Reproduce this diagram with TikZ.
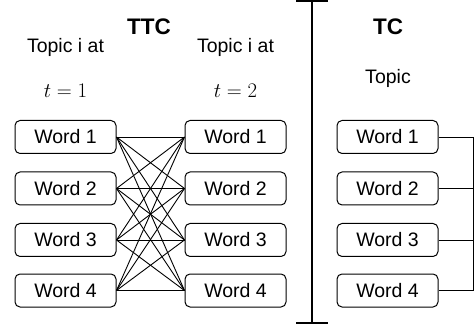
\documentclass[tikz,border=0pt]{standalone}
\usepackage{fontspec}
\setmainfont{Liberation Sans}
\begin{document}
\begin{tikzpicture}[x=1pt,y=-1pt,
  wordbox/.style={draw, rounded corners=5pt, minimum width=101pt, minimum height=33pt, inner sep=0pt, line width=1pt, font=\fontsize{19.5}{23}\selectfont},
  conn/.style={line width=0.9pt},
  title/.style={font=\bfseries\fontsize{22.5}{26}\selectfont, anchor=base},
  lbl/.style={font=\fontsize{19.5}{23}\selectfont, anchor=base},
  mathlbl/.style={font=\fontsize{22.5}{26}\selectfont, anchor=base}]
\useasboundingbox (0,0) rectangle (474,331);
% titles and labels
\node[title] (ttc) at (149,35) {TTC};
\node[title] (tc) at (388,35) {TC};
\node[lbl] (tl1) at (65.5,52.3) {Topic i at};
\node[lbl] (tl2) at (235.5,52.3) {Topic i at};
\node[mathlbl] (t1) at (65.5,97.5) {$t=1$};
\node[mathlbl] (t2) at (235.5,97.5) {$t=2$};
\node[lbl] (tp) at (388,84) {Topic};
% boxes
\foreach \i/\y in {1/137,2/188.5,3/240,4/290.5}{
  \node[wordbox] (l\i) at (65.5,\y) {Word \i};
  \node[wordbox] (m\i) at (235.5,\y) {Word \i};
  \node[wordbox] (r\i) at (387.5,\y) {Word \i};
}
% TTC connections
\foreach \i in {1,...,4}{
  \foreach \j in {1,...,4}{
    \draw[conn] (l\i.east) -- (m\j.west);
  }
}
% TC bracket
\draw[conn] (r1.east) -- ([xshift=35pt]r1.east) -- ([xshift=35pt]r4.east) -- (r4.east);
\draw[conn] (r2.east) -- ([xshift=35pt]r2.east);
\draw[conn] (r3.east) -- ([xshift=35pt]r3.east);
% separator
\coordinate (st) at (312,1);
\coordinate (sb) at (312,323);
\draw[line width=1.1pt] (st) -- (sb);
\draw[line width=1.1pt] ([xshift=-16pt]st) -- ([xshift=16pt]st);
\draw[line width=1.1pt] ([xshift=-16pt]sb) -- ([xshift=16pt]sb);
\end{tikzpicture}
\end{document}
